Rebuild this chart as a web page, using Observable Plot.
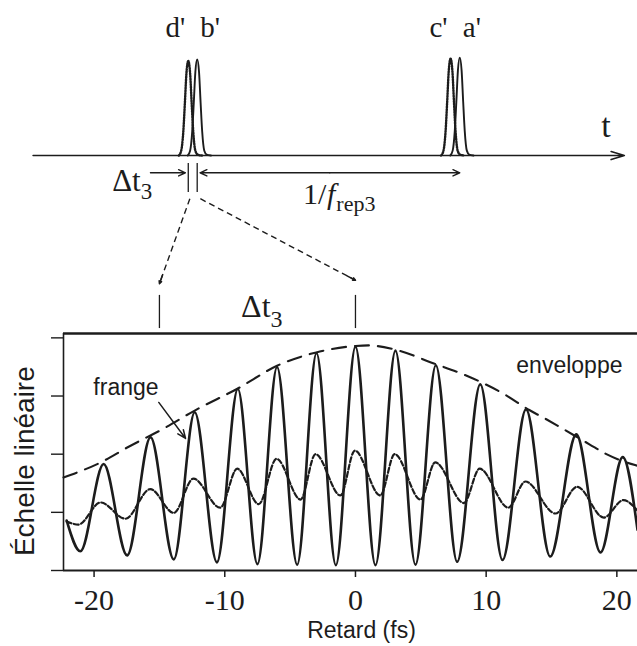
<!DOCTYPE html>
<html>
<head>
<meta charset="utf-8">
<script src="https://cdn.jsdelivr.net/npm/d3@7"></script>
<script src="https://cdn.jsdelivr.net/npm/@observablehq/plot@0.6"></script>
<style>
  html, body { margin: 0; padding: 0; background: #fff; }
  #chart svg { display: block; }
  #chart svg g.serif text { font-family: "Liberation Serif", "DejaVu Serif", "Times New Roman", Times, serif !important; }
</style>
</head>
<body>
<div id="chart"></div>
<script>
// ---------- Autocorrélation interférométrique (panneau du bas) ----------
// retard en fs, signal en unités arbitraires (échelle linéaire)
const fringeDelay  = [-22.1, -21.05, -19.27, -17.47, -15.68, -13.9, -12.3, -10.6, -9.0, -7.5, -6.0, -4.46, -2.98, -1.5, 0, 1.53, 3.06, 4.59, 6.15, 7.78, 9.55, 11.25, 13.05, 14.9, 16.9, 18.75, 20.45, 21.58];
const fringeSignal = [0.86, 0.33, 1.83, 0.26, 2.29, 0.19, 2.72, 0.14, 3.12, 0.11, 3.50, 0.10, 3.74, 0.09, 3.85, 0.09, 3.78, 0.10, 3.53, 0.15, 3.20, 0.18, 2.77, 0.24, 2.34, 0.31, 1.95, 0.70];

const meanDelay  = [-22.1, -21.2, -19.5, -17.6, -15.7, -13.9, -12.4, -10.35, -9.05, -7.4, -6.04, -4.2, -3.06, -1.15, -0.05, 1.9, 3.0, 4.97, 6.1, 8.3, 9.5, 11.7, 13.0, 15.3, 16.96, 19.0, 20.5, 21.58];
const meanSignal = [0.84, 0.79, 1.17, 0.89, 1.40, 0.99, 1.58, 1.08, 1.75, 1.14, 1.92, 1.22, 2.00, 1.29, 2.06, 1.29, 2.00, 1.22, 1.86, 1.16, 1.75, 1.08, 1.53, 0.98, 1.44, 0.91, 1.21, 1.03];

const envelopeDelay  = [-22.34, -19.3, -17.5, -14.6, -12.3, -9.0, -6.0, -3.0, 0, 1.0, 3.0, 6.0, 8.6, 11.4, 13.3, 14.6, 17.9, 19.2, 21.58];
const envelopeSignal = [1.60, 1.88, 2.11, 2.45, 2.75, 3.13, 3.52, 3.75, 3.86, 3.87, 3.80, 3.56, 3.34, 3.03, 2.76, 2.60, 2.17, 2.00, 1.80];

const delayTicks  = [-20, -10, 0, 10, 20];
const signalTicks = [0, 1, 2, 3, 4];
const deltaT3Delays = [-15, 0];

// ---------- Train d'impulsions (panneau du haut) ----------
// temps en centièmes de la période 1/f_rep3, amplitude normalisée
const pulseNames   = ["d'", "b'", "c'", "a'"];
const pulseTimes   = [-3.4, 0, 96.5, 100];
const pulseHeights = [0.985, 1, 1.01, 1.02];
const pulseDelayed = [true, false, true, false];
const pulseOffset  = [-3.6, -2.7, -1.9, -1.3, -0.7, 0, 0.7, 1.3, 1.9, 2.7, 3.6, 5.2];
const pulseLevel   = [0, 0.05, 0.25, 0.55, 0.87, 1, 0.87, 0.55, 0.25, 0.05, 0.01, 0];

// ---------- tables ----------
const zip = (xs, ys) => xs.map((x, i) => ({x, y: ys[i]}));
const fringe = zip(fringeDelay, fringeSignal);
const mean = zip(meanDelay, meanSignal);
const envelope = zip(envelopeDelay, envelopeSignal);
const pulses = pulseNames.map((name, i) => ({name, t: pulseTimes[i], h: pulseHeights[i], delayed: pulseDelayed[i]}));
const pulseRows = pulses.flatMap(p => pulseOffset.map((o, j) => ({name: p.name, delayed: p.delayed, t: p.t + o, a: p.h * pulseLevel[j]})));

// ---------- mise en page ----------
const W = 637, H = 646;
const mL = 63, mR = 0, mT = 333, mB = 76;
const xMin = -22.34, xMax = 21.58, yMax = 4.075;
const kx = (W - mL - mR) / (xMax - xMin);   // px par fs
const ky = (H - mT - mB) / yMax;            // px par unité de signal

// le schéma du haut partage les échelles x/y du graphe
const X = t => -12.11 + t * 0.2009;
const Y = a => 7.135 + a * 1.65;

const ink = "#1c1c1c";
const serif = "Liberation Serif, DejaVu Serif, Times New Roman, serif";
const sans = "Liberation Sans, Arial, Helvetica, sans-serif";

const tD = pulseTimes[0], tB = pulseTimes[1], tA = pulseTimes[3];
const connectors = [
  {x1: X(tD + 0.6), y1: Y(-0.45), x2: deltaT3Delays[0], y2: 4.93},
  {x1: X(tB + 1.2), y1: Y(-0.45), x2: deltaT3Delays[1], y2: 4.99}
];
const headPx = 9;
const heads = connectors.map(c => {
  const len = Math.hypot((c.x2 - c.x1) * kx, (c.y2 - c.y1) * ky);
  const f = headPx / len;
  return {x1: c.x2 - (c.x2 - c.x1) * f, y1: c.y2 - (c.y2 - c.y1) * f, x2: c.x2, y2: c.y2};
});

// textes à empattement (repérés par la classe "serif")
const serifText = (data, opts) => Plot.text(data, {fontFamily: serif, fill: ink, text: d => d, className: "serif", ...opts});

const plot = Plot.plot({
  width: W, height: H,
  marginLeft: mL, marginRight: mR, marginTop: mT, marginBottom: mB,
  x: {domain: [xMin, xMax]},
  y: {domain: [0, yMax]},
  style: {background: "#fff", color: ink, overflow: "visible"},
  marks: [
    // ---- schéma : axe du temps et impulsions ----
    Plot.arrow([0], {x1: X(-62.5), x2: X(162.7), y1: Y(0), y2: Y(0), stroke: ink, strokeWidth: 1.6, headLength: 13, headAngle: 34}),
    Plot.line(pulseRows.filter(d => d.delayed), {x: d => X(d.t), y: d => Y(d.a), z: "name", curve: "monotone-x", stroke: ink, strokeWidth: 2.4, strokeDasharray: "1.3,1.4"}),
    Plot.line(pulseRows.filter(d => !d.delayed), {x: d => X(d.t), y: d => Y(d.a), z: "name", curve: "monotone-x", stroke: ink, strokeWidth: 1.9}),
    serifText(pulses.filter(d => d.delayed), {x: d => X(d.t), y: Y(1.23), text: "name", textAnchor: "end", lineAnchor: "bottom", dx: -3, fontSize: 29}),
    serifText(pulses.filter(d => !d.delayed), {x: d => X(d.t), y: Y(1.23), text: "name", textAnchor: "start", lineAnchor: "bottom", dx: 3, fontSize: 29}),
    serifText(["t"], {x: X(155.7), y: Y(0.19), lineAnchor: "bottom", fontSize: 34}),

    // repères Δt3 et période
    Plot.ruleX([tD, tB], {x: X, y1: Y(-0.083), y2: Y(-0.385), stroke: ink, strokeWidth: 1.3}),
    Plot.arrow([0], {x1: X(tD - 14.4), x2: X(tD - 1.1), y1: Y(-0.18), y2: Y(-0.18), stroke: ink, strokeWidth: 1.4, headLength: 8, headAngle: 50}),
    Plot.arrow([0], {x1: X(50.5), x2: X(tB + 1.1), y1: Y(-0.18), y2: Y(-0.18), stroke: ink, strokeWidth: 1.4, headLength: 8, headAngle: 50}),
    Plot.arrow([0], {x1: X(50.5), x2: X(tA), y1: Y(-0.18), y2: Y(-0.18), stroke: ink, strokeWidth: 1.4, headLength: 8, headAngle: 50}),
    serifText(["Δt"], {x: X(-21.5), y: Y(-0.37), textAnchor: "end", lineAnchor: "bottom", fontSize: 31}),
    serifText(["3"], {x: X(-21.5), y: Y(-0.37), textAnchor: "start", lineAnchor: "bottom", dy: 8, fontSize: 23}),
    serifText(["1/"], {x: X(52.6), y: Y(-0.5), textAnchor: "end", lineAnchor: "bottom", dx: -9, fontSize: 30}),
    serifText(["f"], {x: X(52.6), y: Y(-0.5), textAnchor: "end", lineAnchor: "bottom", fontSize: 30, fontStyle: "italic"}),
    serifText(["rep3"], {x: X(52.6), y: Y(-0.5), textAnchor: "start", lineAnchor: "bottom", dx: 1, dy: 7, fontSize: 22}),

    // liens pointillés vers le graphe
    Plot.link(connectors, {x1: "x1", y1: "y1", x2: "x2", y2: "y2", stroke: ink, strokeWidth: 1.4, strokeDasharray: "6,4"}),
    Plot.arrow(heads, {x1: "x1", y1: "y1", x2: "x2", y2: "y2", stroke: ink, strokeWidth: 1.5, headLength: 8, headAngle: 50}),
    Plot.ruleX(deltaT3Delays, {y1: 4.16, y2: 4.73, stroke: ink, strokeWidth: 1.3}),
    serifText(["Δt"], {x: -6.5, y: 4.355, textAnchor: "end", lineAnchor: "bottom", fontSize: 32}),
    serifText(["3"], {x: -6.5, y: 4.355, textAnchor: "start", lineAnchor: "bottom", dy: 10, fontSize: 24}),

    // ---- graphe : cadre et axes ----
    Plot.ruleY([yMax], {x1: xMin, x2: xMax, stroke: ink, strokeWidth: 2.6}),
    Plot.ruleX([xMin], {y1: 0, y2: yMax, stroke: ink, strokeWidth: 1.6}),
    Plot.ruleY([0], {x1: xMin, x2: xMax, stroke: ink, strokeWidth: 2}),
    Plot.axisY({ticks: signalTicks, tickSize: 12, tickFormat: () => "", label: null, strokeWidth: 1.4}),
    Plot.axisX({ticks: delayTicks, tickSize: 7, tickPadding: 11, tickFormat: d => String(d), label: null, fontSize: 30, fontFamily: serif, className: "serif", fill: ink, strokeWidth: 1.5}),

    // courbes
    Plot.line(envelope, {x: "x", y: "y", curve: "monotone-x", stroke: ink, strokeWidth: 2.1, strokeDasharray: "14,9"}),
    Plot.line(mean, {x: "x", y: "y", curve: "monotone-x", stroke: ink, strokeWidth: 2.2, strokeDasharray: "5,2.5"}),
    Plot.line(fringe, {x: "x", y: "y", curve: "monotone-x", stroke: ink, strokeWidth: 2.6}),

    // annotations
    Plot.text(["frange"], {x: -17.56, y: 3.01, text: d => d, lineAnchor: "bottom", fontSize: 23, fontFamily: sans, fill: ink}),
    Plot.arrow([0], {x1: -15.05, y1: 2.89, x2: -13.0, y2: 2.27, stroke: ink, strokeWidth: 1.5, headLength: 9, headAngle: 45}),
    Plot.text(["enveloppe"], {x: 16.37, y: 3.40, text: d => d, lineAnchor: "bottom", fontSize: 23, fontFamily: sans, fill: ink}),
    Plot.text(["Retard (fs)"], {frameAnchor: "bottom", text: d => d, dx: 11, dy: 67, fontSize: 23, fontFamily: sans, fill: ink}),
    Plot.text(["Échelle linéaire"], {x: xMin, y: 2, text: d => d, dx: -38, dy: 7, rotate: -90, fontSize: 28, fontFamily: sans, fill: ink})
  ]
});

// repli : imposer la police à empattement directement sur chaque texte concerné
plot.querySelectorAll("g.serif text, g[font-family^='Liberation Serif'] text").forEach(t => {
  t.style.setProperty("font-family", "'Liberation Serif', 'DejaVu Serif', 'Times New Roman', serif", "important");
});

document.getElementById("chart").append(plot);
</script>
</body>
</html>
